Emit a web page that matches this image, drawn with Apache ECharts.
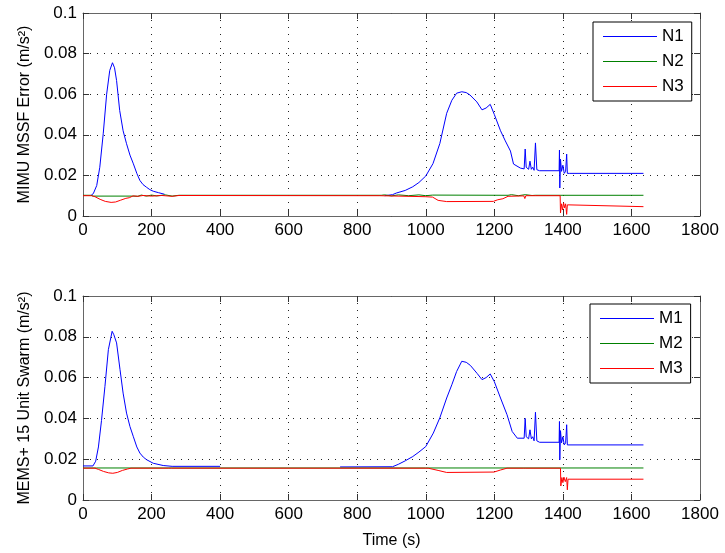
<!DOCTYPE html>
<html><head><meta charset="utf-8">
<script src="https://cdn.jsdelivr.net/npm/echarts@6/dist/echarts.min.js"></script>
<style>html,body{margin:0;padding:0;background:#fff}#c{width:725px;height:553px}</style>
</head><body><div id="c"></div>
<script>
// x ticks and y ticks
const xTicks = [0,200,400,600,800,1000,1200,1400,1600,1800];
const yTicks = [0,0.02,0.04,0.06,0.08,0.1];
const yLabelTop = 'MIMU MSSF Error (m/s²)';
const yLabelBottom = 'MEMS+ 15 Unit Swarm (m/s²)';
const xLabel = 'Time (s)';

// Top panel series [time (s), error]
const N1 = [[24,0.0103],[30,0.0110],[40,0.015],[49,0.024],[59,0.0405],[69,0.060],[78,0.0717],[86,0.0755],[92,0.073],[98,0.0667],[107,0.052],[117,0.042],[127,0.0356],[137,0.030],[147,0.0257],[157,0.021],[166,0.0175],[175,0.0155],[185,0.0142],[195,0.013],[205,0.0122],[220,0.0115],[238,0.0107],[560,null],
  [880,0.0100],[903,0.0105],[914,0.0113],[940,0.0126],[962,0.0144],[980,0.0165],[1000,0.0197],[1021,0.0258],[1041,0.0357],[1061,0.0506],[1076,0.057],[1090,0.0605],[1105,0.0612],[1118,0.0608],[1129,0.0596],[1149,0.0562],[1164,0.0523],[1176,0.0532],[1188,0.055],[1200,0.050],[1218,0.042],[1232,0.037],[1247,0.032],[1256,0.0256],[1276,0.0236],[1287,0.0232],[1290,0.033],[1293,0.024],[1300,0.023],[1304,0.027],[1308,0.023],[1312,0.024],[1316,0.0225],[1320,0.036],[1324,0.0228],[1332,0.0223],[1389,0.0223],[1390,0.0325],[1391,0.0138],[1393,0.028],[1396,0.022],[1400,0.025],[1404,0.021],[1408,0.022],[1411,0.0305],[1413,0.021],[1416,0.0205],[1420,0.021],[1635,0.021]];
const N2 = [[0,0.0102],[23,0.0102],[30,0.0098],[146,0.0098],[150,0.0103],[160,0.0097],[170,0.0103],[185,0.0098],[200,0.0103],[215,0.0099],[240,0.0104],[260,0.0098],[280,0.0102],[870,0.0102],[880,0.0104],[900,0.0099],[920,0.0104],[950,0.0100],[980,0.0104],[1000,0.0100],[1020,0.0103],[1240,0.0102],[1250,0.0105],[1270,0.0100],[1290,0.0105],[1310,0.0101],[1320,0.0102],[1635,0.0102]];
const N3 = [[0,0.0100],[25,0.0100],[35,0.0095],[50,0.0082],[65,0.0072],[82,0.0067],[95,0.0069],[110,0.0078],[125,0.0087],[135,0.0090],[146,0.0099],[160,0.0097],[175,0.0101],[200,0.0098],[230,0.0101],[260,0.0097],[280,0.0101],[866,0.0100],[870,0.0096],[1000,0.0095],[1020,0.0093],[1036,0.0077],[1061,0.0071],[1197,0.0072],[1210,0.0080],[1225,0.0085],[1240,0.0097],[1286,0.0099],[1289,0.0086],[1292,0.0100],[1392,0.0100],[1393,0.0015],[1396,0.0060],[1399,0.0030],[1402,0.0065],[1405,0.0040],[1408,0.0060],[1411,0.0008],[1413,0.0055],[1416,0.0046],[1635,0.0046]];

// Bottom panel series [time (s), error]
const M1 = [[0,0.0167],[29,0.0167],[37,0.019],[45,0.026],[54,0.039],[64,0.0557],[74,0.0737],[85,0.0827],[90,0.081],[98,0.077],[108,0.0639],[117,0.0524],[127,0.0426],[137,0.036],[147,0.031],[157,0.026],[166,0.023],[176,0.021],[186,0.0197],[205,0.018],[234,0.0169],[260,0.0165],[400,0.0165],[575,null],
  [750,0.0162],[903,0.0163],[920,0.0175],[940,0.0192],[962,0.0213],[980,0.0235],[1000,0.0262],[1022,0.0328],[1041,0.0403],[1061,0.050],[1076,0.0565],[1090,0.063],[1105,0.068],[1118,0.0675],[1130,0.066],[1150,0.062],[1164,0.059],[1176,0.060],[1188,0.0618],[1200,0.058],[1218,0.050],[1237,0.0418],[1252,0.0336],[1267,0.0303],[1287,0.0303],[1290,0.040],[1293,0.031],[1300,0.030],[1304,0.0344],[1308,0.030],[1312,0.031],[1316,0.029],[1320,0.043],[1324,0.029],[1332,0.0283],[1389,0.0283],[1390,0.0385],[1391,0.0197],[1393,0.034],[1396,0.028],[1400,0.031],[1404,0.027],[1408,0.028],[1411,0.0369],[1413,0.027],[1416,0.027],[1635,0.027]];
const M2 = [[0,0.0157],[40,0.0157],[42,0.0160],[44,0.0157],[140,0.0157],[1000,0.0157],[1003,0.0160],[1005,0.0157],[1635,0.0157]];
const M3 = [[0,0.0156],[35,0.0156],[45,0.0150],[60,0.0140],[75,0.0133],[87,0.0131],[100,0.0135],[115,0.0145],[130,0.0152],[140,0.0156],[250,0.0156],[253,0.0162],[258,0.0156],[1007,0.0156],[1010,0.0147],[1036,0.0145],[1040,0.0139],[1061,0.0135],[1065,0.0131],[1199,0.0137],[1218,0.0147],[1237,0.0156],[1286,0.0156],[1288,0.0165],[1290,0.0148],[1292,0.0156],[1393,0.0156],[1394,0.0069],[1397,0.0110],[1400,0.0085],[1403,0.0112],[1407,0.0090],[1411,0.0110],[1413,0.0050],[1415,0.0102],[1635,0.0102]];

const FONT = 'Liberation Sans, Arial, Helvetica, sans-serif';
const BLUE = '#0000ff', GREEN = '#008000', RED = '#ff0000';
const gridDef = [
  {left:83, top:13, width:617, height:203},
  {left:83, top:296, width:617, height:204}
];
const gridLine = {show:true, lineStyle:{color:'#222', type:[1,6], width:1}};
function xAx(g, pos, labels){
  return {type:'value', gridIndex:g, position:pos, min:xTicks[0], max:xTicks[xTicks.length-1], interval:xTicks[1]-xTicks[0],
    axisLine:{show:true, onZero:false, lineStyle:{color:'#666', width:1}},
    axisTick:{show:true, inside:true, length:6, lineStyle:{color:'#333'}},
    axisLabel:{show:labels, color:'#000', fontSize:17, fontFamily:FONT, margin:6, formatter: v => String(v)},
    splitLine: labels ? gridLine : {show:false},
    name: (labels && g===1) ? xLabel : '', nameLocation:'middle', nameGap:33,
    nameTextStyle:{color:'#000', fontSize:16, fontFamily:FONT}};
}
function yAx(g, pos, labels, name){
  return {type:'value', gridIndex:g, position:pos, min:yTicks[0], max:yTicks[yTicks.length-1], interval:yTicks[1]-yTicks[0],
    axisLine:{show:true, onZero:false, lineStyle:{color:'#666', width:1}},
    axisTick:{show:true, inside:true, length:6, lineStyle:{color:'#333'}},
    axisLabel:{show:labels, color:'#000', fontSize:17, fontFamily:FONT, margin:6,
      formatter: v => String(+v.toFixed(2))},
    splitLine: labels ? gridLine : {show:false},
    name: labels ? name : '', nameLocation:'middle', nameGap:48, nameRotate:90,
    nameTextStyle:{color:'#000', fontSize:16, fontFamily:FONT}};
}
function line(name, data, color, g){
  return {name, type:'line', data, xAxisIndex:g, yAxisIndex:g, symbol:'none',
    showSymbol:false, connectNulls:false, animation:false,
    lineStyle:{color, width:1}, itemStyle:{color}};
}
const legendBase = {orient:'vertical', backgroundColor:'#fff', borderColor:'#000', borderWidth:1,
  itemWidth:54, itemHeight:14, itemGap:8, padding:[6,8,6,10],
  textStyle:{color:'#000', fontSize:17, fontFamily:FONT}, icon:'path://M0,7L54,7L54,8L0,8Z'};
const chart = echarts.init(document.getElementById('c'), null, {renderer:'canvas'});
chart.setOption({
  animation:false,
  backgroundColor:'#fff',
  grid: gridDef,
  xAxis:[xAx(0,'bottom',true), xAx(1,'bottom',true), xAx(0,'top',false), xAx(1,'top',false)],
  yAxis:[yAx(0,'left',true,yLabelTop), yAx(1,'left',true,yLabelBottom), yAx(0,'right',false,''), yAx(1,'right',false,'')],
  legend:[
    Object.assign({}, legendBase, {left:593, top:22, data:['N1','N2','N3']}),
    Object.assign({}, legendBase, {left:590, top:304, data:['M1','M2','M3']})
  ],
  series:[
    line('N1', N1, BLUE, 0), line('N2', N2, GREEN, 0), line('N3', N3, RED, 0),
    line('M1', M1, BLUE, 1), line('M2', M2, GREEN, 1), line('M3', M3, RED, 1)
  ]
});
</script></body></html>
